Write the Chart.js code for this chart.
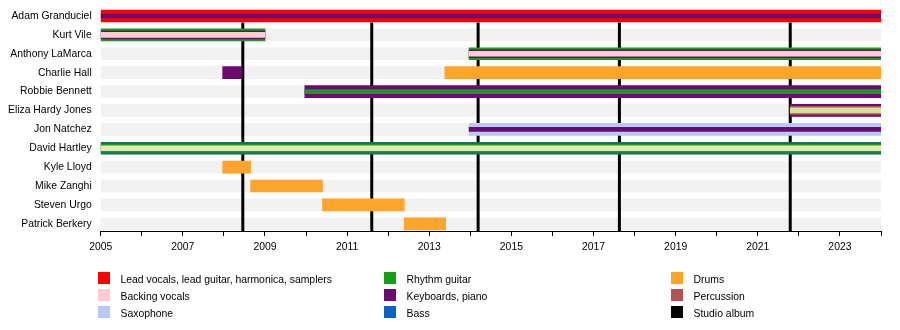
<!DOCTYPE html>
<html><head><meta charset="utf-8">
<script src="https://cdn.jsdelivr.net/npm/chart.js@4"></script>
<style>
html,body{margin:0;padding:0;background:#fff;}
#wrap{position:relative;width:900px;height:330px;overflow:hidden;}
canvas{position:absolute;left:0;top:0;}
.leg{position:absolute;font:10.4px "Liberation Sans",Arial,sans-serif;color:#000;white-space:nowrap;}
.leg i{position:absolute;left:0;top:0;width:12px;height:12px;}
.leg span{position:absolute;top:2px;line-height:12px;}
</style></head>
<body>
<div id="wrap"><canvas id="c" width="900" height="330"></canvas></div>
<script>
// ---------- data ----------
const members = ["Adam Granduciel","Kurt Vile","Anthony LaMarca","Charlie Hall","Robbie Bennett","Eliza Hardy Jones","Jon Natchez","David Hartley","Kyle Lloyd","Mike Zanghi","Steven Urgo","Patrick Berkery"];
const startYear = 2005;
const endYear = 2024;
const tickYears = [2005,2007,2009,2011,2013,2015,2017,2019,2021,2023];
const studioAlbums = [2008.46, 2011.60, 2014.19, 2017.63, 2021.79];

const leadVocals    = [["Adam Granduciel", 2005, 2024]];
const backingVocals = [["Kurt Vile", 2005, 2009], ["Anthony LaMarca", 2013.97, 2024]];
const saxophone     = [["Jon Natchez", 2013.97, 2024]];
const rhythmGuitar  = [["Kurt Vile", 2005, 2009], ["Anthony LaMarca", 2013.97, 2024], ["Robbie Bennett", 2009.97, 2024], ["David Hartley", 2005, 2024]];
const keyboards     = [["Adam Granduciel", 2005, 2024], ["Kurt Vile", 2005, 2009], ["Anthony LaMarca", 2013.97, 2024], ["Charlie Hall", 2007.97, 2008.44], ["Robbie Bennett", 2009.97, 2024], ["Eliza Hardy Jones", 2021.79, 2024], ["Jon Natchez", 2013.97, 2024]];
const bass          = [["David Hartley", 2005, 2024]];
const drums         = [["Charlie Hall", 2013.38, 2024], ["Kyle Lloyd", 2007.97, 2008.65], ["Mike Zanghi", 2008.65, 2010.40], ["Steven Urgo", 2010.40, 2012.39], ["Patrick Berkery", 2012.39, 2013.40]];
const percussion    = [["Eliza Hardy Jones", 2021.79, 2024]];
const otherParts    = [["Eliza Hardy Jones", 2021.79, 2024], ["David Hartley", 2005, 2024]];

const legendLabels = ["Lead vocals, lead guitar, harmonica, samplers","Backing vocals","Saxophone","Rhythm guitar","Keyboards, piano","Bass","Drums","Percussion","Studio album"];

// ---------- style ----------
const FONT = '"Liberation Sans", Arial, sans-serif';
const FSIZE = 10.4;
const roles = [
  {key:"lead", spans: leadVocals, color:"#ff0000"},
  {key:"backing", spans: backingVocals, color:"#ffccd5"},
  {key:"sax", spans: saxophone, color:"#b6caf5"},
  {key:"rhythm", spans: rhythmGuitar, color:"#14a014"},
  {key:"keys", spans: keyboards, color:"#6c0a70"},
  {key:"bass", spans: bass, color:"#0a64c8"},
  {key:"drums", spans: drums, color:"#ffa52a"},
  {key:"perc", spans: percussion, color:"#b25252"},
  {key:"other", spans: otherParts, color:"#dfe3a6"}
];
const legendColors = ["#ff0000","#ffccd5","#b6caf5","#14a014","#6c0a70","#0a64c8","#ffa52a","#b25252","#000000"];
const colorOverride = {"David Hartley|bass":"#0f6e7c", "Eliza Hardy Jones|other":"#d6e09a", "David Hartley|other":"#e6e6b6"};
// stacking of roles per member, outer -> inner
const layering = {
  "Adam Granduciel":["lead","keys"],
  "Kurt Vile":["rhythm","keys","backing"],
  "Anthony LaMarca":["rhythm","keys","backing"],
  "Charlie Hall":["keys","drums"],
  "Robbie Bennett":["keys","rhythm"],
  "Eliza Hardy Jones":["keys","perc","other"],
  "Jon Natchez":["sax","keys"],
  "David Hartley":["bass","rhythm","other"],
  "Kyle Lloyd":["drums"],"Mike Zanghi":["drums"],"Steven Urgo":["drums"],"Patrick Berkery":["drums"]
};
function thicknessFor(member, role){
  const l = layering[member];
  const d = l.indexOf(role);
  if (member === "Charlie Hall") return 12;
  if (l.length === 1 || d === 0) return 12;
  if (l.length === 2) return 4;
  return d === 1 ? 8 : 5;
}

// ---------- datasets ----------
const datasets = [{
  label:"bg", order:100, barThickness:12, backgroundColor:"#f2f2f2",
  data: members.map((m,i)=>({x:[startYear,endYear], y:i}))
}];
const groups = {};
roles.forEach(r=>{
  r.spans.forEach(([m,s,e])=>{
    const t = thicknessFor(m, r.key);
    const k = r.key+"_"+t;
    if(!groups[k]) groups[k] = {role:r, t, data:[], colors:[]};
    groups[k].data.push({x:[s,e], y:members.indexOf(m)});
    groups[k].colors.push(colorOverride[m+"|"+r.key] || r.color);
  });
});
Object.values(groups).forEach(g=>{
  datasets.push({label:g.role.key, order: g.t===12?30:(g.t===8?20:10), barThickness:g.t,
    backgroundColor:g.colors, data:g.data});
});

const albumLines = {
  id:"albumLines",
  afterDatasetDraw(chart, args){
    if (chart.data.datasets[args.index].label !== "bg") return;
    const {ctx, chartArea} = chart;
    const xs = chart.scales.x, ys = chart.scales.y;
    const top = ys.getPixelForValue(0) + 6.5;
    ctx.save();
    ctx.fillStyle = "#000";
    studioAlbums.forEach(a=>{
      const x = xs.getPixelForValue(a);
      ctx.fillRect(x-1.5, top, 3, chartArea.bottom - top);
    });
    ctx.restore();
  }
};

new Chart(document.getElementById("c"), {
  type:"bar",
  data:{datasets},
  options:{
    indexAxis:"y", responsive:false, animation:false,
    layout:{padding:{left:0,right:19,top:5,bottom:69}},
    datasets:{bar:{grouped:false, borderWidth:0, borderSkipped:false}},
    plugins:{legend:{display:false}, tooltip:{enabled:false}},
    scales:{
      x:{type:"linear", min:startYear, max:endYear, position:"bottom",
        ticks:{stepSize:1, autoSkip:false, maxRotation:0, includeBounds:false, color:"#000",
          font:{family:FONT, size:FSIZE}, padding:5,
          callback:(v)=> tickYears.includes(v) ? String(v) : ""},
        grid:{drawOnChartArea:false, drawTicks:true, tickLength:5, color:"#000", tickColor:"#000"},
        border:{display:true, color:"#000", width:1},
        afterFit(s){ s.height = 30; s.paddingLeft = 0; s.paddingRight = 0; }
      },
      y:{type:"linear", reverse:true, min:-0.582, max:11.381, offset:false, bounds:"data", grace:0,
        afterBuildTicks(s){ s.ticks = members.map((_,i)=>({value:i})); },
        ticks:{autoSkip:false, color:"#000", font:{family:FONT, size:FSIZE}, padding:9,
          callback:(v)=> members[v]},
        grid:{display:false, drawTicks:false, offset:false}, border:{display:false},
        afterFit(s){ s.width = 100.7; s.paddingTop = 0; s.paddingBottom = 0; }
      }
    }
  },
  plugins:[albumLines]
});

// ---------- legend ----------
const wrap = document.getElementById("wrap");
const colX = [98, 384, 671];
const rowY = [272, 289, 306];
legendLabels.forEach((lab,i)=>{
  const d = document.createElement("div");
  d.className = "leg";
  d.style.left = colX[Math.floor(i/3)] + "px";
  d.style.top = rowY[i%3] + "px";
  d.innerHTML = '<i style="background:'+legendColors[i]+'"></i><span style="left:22.5px">'+lab+'</span>';
  wrap.appendChild(d);
});
</script>
</body></html>
